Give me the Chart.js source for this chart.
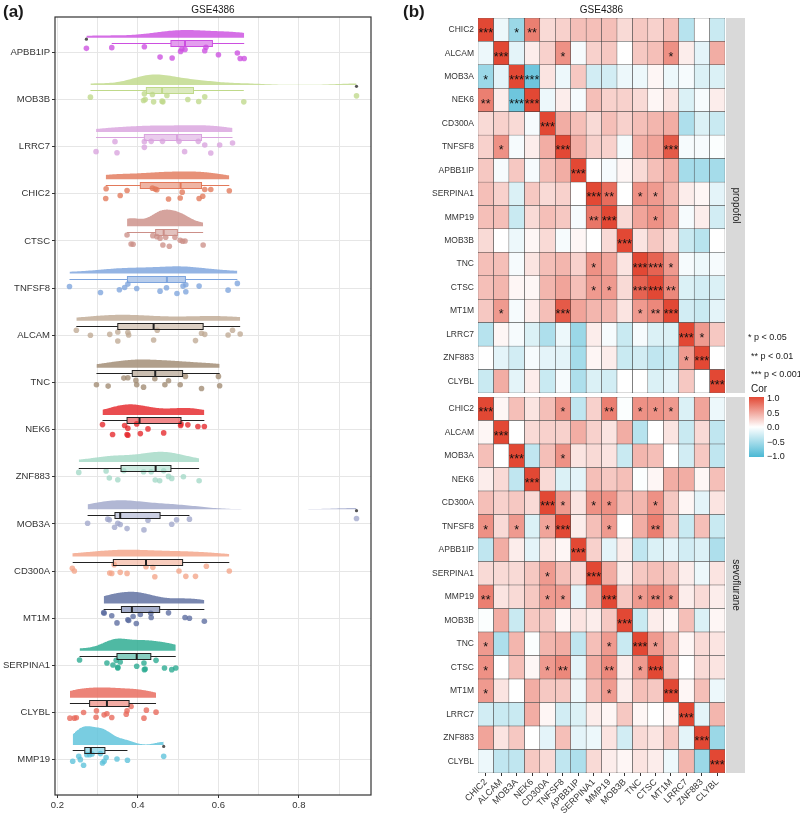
<!DOCTYPE html>
<html>
<head>
<meta charset="utf-8">
<script src="https://cdn.jsdelivr.net/npm/chart.js@4.4.1/dist/chart.umd.min.js"></script>
<style>
    body { margin: 0; background: #fff; font-family: "Liberation Sans", Arial, sans-serif; }
    #page { position: relative; width: 800px; height: 813px; overflow: hidden; }
    canvas { position: absolute; }
    .lab { position: absolute; color: #1a1a1a; white-space: nowrap; line-height: 1; }
</style>
</head>
<body>
<div id="page">
    <canvas id="rain" width="400" height="813" style="left:0;top:0"></canvas>
    <canvas id="hmTop" width="400" height="395" style="left:400px;top:0"></canvas>
    <canvas id="hmBot" width="400" height="418" style="left:400px;top:395px"></canvas>

    <div class="lab" style="left:3px;top:3px;font-weight:bold;font-size:17px">(a)</div>
    <div class="lab" style="left:403px;top:3px;font-weight:bold;font-size:17px">(b)</div>
    <div class="lab" style="left:55px;width:316px;text-align:center;top:5px;font-size:10px">GSE4386</div>
    <div class="lab" style="left:478px;width:247px;text-align:center;top:5px;font-size:10px">GSE4386</div>

    <div class="lab" style="left:748px;top:333px;font-size:9px">* p &lt; 0.05</div>
    <div class="lab" style="left:751px;top:352px;font-size:9px">** p &lt; 0.01</div>
    <div class="lab" style="left:751px;top:370px;font-size:9px">*** p &lt; 0.001</div>

    <div class="lab" style="left:751px;top:384px;font-size:10px">Cor</div>
    <div id="cbar" style="position:absolute;left:749px;top:397px;width:15px;height:60px"></div>
    <div class="lab" style="left:767px;top:394px;font-size:9px">1.0</div>
    <div class="lab" style="left:767px;top:409px;font-size:9px">0.5</div>
    <div class="lab" style="left:767px;top:423px;font-size:9px">0.0</div>
    <div class="lab" style="left:767px;top:438px;font-size:9px">&minus;0.5</div>
    <div class="lab" style="left:767px;top:452px;font-size:9px">&minus;1.0</div>
</div>

<script>
// ---- panel (a) data: genes top to bottom ----
const genes = ['APBB1IP', 'MOB3B', 'LRRC7', 'CHIC2', 'CTSC', 'TNFSF8', 'ALCAM', 'TNC',
    'NEK6', 'ZNF883', 'MOB3A', 'CD300A', 'MT1M', 'SERPINA1', 'CLYBL', 'MMP19'];

const geneColors = ['#CC4FE0', '#BFD98A', '#D9A3DE', '#E2795A', '#CC8F88', '#7DA4DD', '#BFA994', '#A08A72',
    '#E5262A', '#A3D9C6', '#A0A7CB', '#F3A488', '#5B6C9F', '#28A98F', '#E8685A', '#5CC2DA'];

// sample values
const pointValues = [
    [0.272, 0.335, 0.416, 0.455, 0.485, 0.506, 0.509, 0.517, 0.566, 0.569, 0.600, 0.647, 0.654, 0.664],
    [0.282, 0.416, 0.436, 0.418, 0.414, 0.439, 0.460, 0.462, 0.472, 0.524, 0.551, 0.566, 0.663, 0.943],
    [0.296, 0.343, 0.348, 0.416, 0.416, 0.433, 0.461, 0.502, 0.516, 0.550, 0.566, 0.581, 0.603, 0.635],
    [0.320, 0.321, 0.356, 0.373, 0.436, 0.443, 0.447, 0.476, 0.505, 0.510, 0.552, 0.561, 0.566, 0.581, 0.627],
    [0.373, 0.383, 0.388, 0.437, 0.447, 0.455, 0.462, 0.469, 0.478, 0.492, 0.505, 0.511, 0.517, 0.562],
    [0.230, 0.307, 0.354, 0.367, 0.375, 0.397, 0.455, 0.471, 0.497, 0.512, 0.519, 0.519, 0.552, 0.624, 0.647],
    [0.247, 0.282, 0.330, 0.350, 0.350, 0.375, 0.377, 0.439, 0.448, 0.543, 0.558, 0.566, 0.624, 0.635, 0.654],
    [0.297, 0.326, 0.365, 0.375, 0.395, 0.397, 0.414, 0.442, 0.467, 0.476, 0.505, 0.518, 0.558, 0.600, 0.603],
    [0.312, 0.337, 0.367, 0.373, 0.375, 0.375, 0.397, 0.406, 0.425, 0.464, 0.506, 0.507, 0.524, 0.549, 0.565],
    [0.253, 0.321, 0.329, 0.350, 0.365, 0.414, 0.433, 0.443, 0.454, 0.464, 0.476, 0.484, 0.513, 0.552],
    [0.275, 0.325, 0.329, 0.342, 0.350, 0.356, 0.373, 0.415, 0.425, 0.484, 0.496, 0.528, 0.943],
    [0.237, 0.242, 0.330, 0.335, 0.341, 0.356, 0.373, 0.420, 0.437, 0.442, 0.502, 0.519, 0.543, 0.570, 0.627],
    [0.315, 0.316, 0.335, 0.348, 0.375, 0.377, 0.388, 0.396, 0.406, 0.432, 0.433, 0.476, 0.517, 0.528, 0.565],
    [0.255, 0.323, 0.338, 0.346, 0.350, 0.350, 0.356, 0.397, 0.415, 0.416, 0.418, 0.445, 0.466, 0.484, 0.494],
    [0.231, 0.242, 0.247, 0.265, 0.297, 0.296, 0.316, 0.323, 0.335, 0.371, 0.373, 0.383, 0.415, 0.421, 0.445],
    [0.238, 0.253, 0.257, 0.265, 0.273, 0.280, 0.286, 0.307, 0.312, 0.316, 0.321, 0.348, 0.374, 0.464]
];

// vertical offset of each dot from its gene line (as read)
const pointJitter = [
    [-0.085, -0.10, -0.12, 0.10, 0.12, -0.02, -0.07, -0.06, -0.035, -0.11, 0.05, 0.014, 0.13, 0.13],
    [-0.05, -0.12, -0.106, 0, 0.02, 0.05, 0.035, 0.05, -0.085, 0, 0.043, -0.057, 0.05, -0.078],
    [0.106, -0.106, 0.128, -0.106, 0.014, -0.113, -0.113, -0.113, 0.106, -0.113, -0.035, 0.135, -0.035, -0.078],
    [0.10, -0.106, 0.035, -0.07, -0.12, -0.10, -0.085, 0.11, 0.09, -0.035, 0.10, 0.05, -0.09, -0.09, -0.064],
    [-0.128, 0.064, 0.07, -0.113, -0.092, -0.057, 0.085, -0.078, 0.113, -0.078, -0.014, 0.007, 0, 0.085],
    [-0.035, 0.092, 0.035, -0.014, -0.085, 0.007, 0.064, -0.007, 0.113, -0.043, -0.07, 0.078, -0.043, 0.043, -0.10],
    [-0.106, 0, -0.02, -0.07, 0.12, -0.057, -0.007, 0.10, -0.106, 0.113, -0.043, -0.02, -0.007, -0.106, -0.028],
    [0.05, 0.078, -0.092, -0.10, -0.043, 0.05, 0.10, -0.078, 0.05, -0.035, 0.05, -0.128, 0.128, -0.128, 0.07],
    [-0.106, 0.106, -0.085, 0.106, 0.12, -0.028, -0.12, 0.085, -0.014, 0.07, -0.085, -0.12, -0.10, -0.064, -0.064],
    [-0.092, -0.12, 0.028, 0.064, -0.128, -0.106, -0.106, 0.07, 0.085, -0.128, -0.007, 0.035, 0, 0.085],
    [-0.014, -0.10, -0.085, 0.07, -0.014, 0.014, 0.10, 0.128, -0.078, 0.007, -0.085, -0.10, -0.113],
    [-0.057, 0, 0.043, 0.05, -0.135, 0.028, 0.05, -0.092, -0.078, 0.12, 0, 0.113, 0.113, -0.10, 0],
    [-0.12, -0.106, -0.05, 0.10, 0.035, 0.05, -0.035, 0.113, -0.078, -0.106, -0.014, -0.113, -0.014, 0, 0.064],
    [-0.113, -0.05, -0.007, -0.106, 0.057, 0.043, -0.07, 0.02, -0.05, 0.092, 0.078, -0.106, 0.057, 0.092, 0.057],
    [0.12, 0.12, 0.113, 0, -0.035, 0.10, 0.05, 0.028, 0.106, 0.035, -0.035, -0.128, 0.12, -0.05, -0.007],
    [0.035, -0.07, 0, 0.12, -0.106, -0.106, -0.12, -0.128, 0.07, 0.035, -0.043, -0.014, 0.014, -0.07]
];

// boxplot stats as read
const boxQ1 = [0.482, 0.421, 0.416, 0.406, 0.444, 0.374, 0.350, 0.386, 0.373, 0.358, 0.343, 0.339, 0.359, 0.348, 0.280, 0.268];
const boxMed = [0.517, 0.460, 0.497, 0.506, 0.464, 0.472, 0.439, 0.443, 0.404, 0.444, 0.356, 0.420, 0.385, 0.397, 0.323, 0.283];
const boxQ3 = [0.585, 0.538, 0.558, 0.558, 0.498, 0.518, 0.562, 0.511, 0.507, 0.482, 0.455, 0.511, 0.454, 0.432, 0.378, 0.318];
const whiskLo = [0.335, 0.282, 0.296, 0.320, 0.373, 0.230, 0.247, 0.297, 0.312, 0.253, 0.275, 0.238, 0.315, 0.255, 0.231, 0.238];
const whiskHi = [0.664, 0.663, 0.635, 0.627, 0.562, 0.647, 0.654, 0.603, 0.565, 0.552, 0.528, 0.627, 0.565, 0.494, 0.445, 0.374];
const outlierGene = [0, 1, 10, 15];
const outlierVal = [0.272, 0.943, 0.943, 0.464];

const xTicks = [0.2, 0.3, 0.4, 0.5, 0.6, 0.7, 0.8, 0.9];

// ---- panel (b) data ----
const hmGenes = ['CHIC2', 'ALCAM', 'MOB3A', 'NEK6', 'CD300A', 'TNFSF8', 'APBB1IP', 'SERPINA1',
    'MMP19', 'MOB3B', 'TNC', 'CTSC', 'MT1M', 'LRRC7', 'ZNF883', 'CLYBL'];

const corPropofol = [
    [1.00, -0.10, -0.55, 0.70, 0.20, 0.25, 0.35, 0.35, 0.35, 0.20, 0.30, 0.25, 0.35, -0.40, 0.00, -0.30],
    [-0.10, 1.00, -0.15, 0.10, 0.25, 0.60, -0.05, 0.25, 0.30, 0.00, 0.30, 0.35, 0.60, 0.10, -0.15, 0.45],
    [-0.55, -0.15, 1.00, -0.80, 0.15, -0.10, 0.30, -0.25, -0.25, -0.10, -0.10, 0.05, -0.10, -0.05, -0.20, -0.20],
    [0.70, 0.10, -0.80, 1.00, -0.10, 0.10, -0.05, 0.35, 0.25, 0.25, 0.20, 0.05, 0.15, -0.20, -0.05, 0.10],
    [0.20, 0.25, 0.20, -0.05, 1.00, 0.45, 0.35, 0.20, 0.35, 0.25, 0.35, 0.40, 0.45, -0.45, -0.20, -0.30],
    [0.25, 0.60, -0.05, 0.10, 0.45, 1.00, 0.45, 0.25, 0.25, -0.05, 0.45, 0.50, 0.90, -0.05, -0.05, -0.02],
    [0.30, -0.05, 0.30, -0.05, 0.35, 0.45, 1.00, 0.00, -0.05, 0.05, 0.20, 0.35, 0.45, -0.50, -0.50, -0.50],
    [0.35, 0.25, -0.20, 0.30, 0.20, 0.25, 0.00, 1.00, 0.80, 0.00, 0.60, 0.55, 0.40, 0.10, 0.05, -0.15],
    [0.35, 0.35, -0.30, 0.20, 0.35, 0.30, -0.05, 0.75, 1.00, 0.20, 0.50, 0.60, 0.45, -0.05, 0.10, -0.25],
    [0.20, 0.00, -0.10, 0.05, 0.20, -0.05, 0.05, 0.00, 0.20, 1.00, 0.15, 0.30, 0.20, -0.30, -0.40, 0.00],
    [0.35, 0.35, -0.05, 0.15, 0.35, 0.40, 0.25, 0.60, 0.50, 0.15, 1.00, 0.85, 0.55, -0.05, -0.10, -0.05],
    [0.35, 0.40, 0.05, 0.05, 0.40, 0.50, 0.35, 0.55, 0.55, 0.20, 0.85, 1.00, 0.65, -0.20, -0.25, -0.20],
    [0.30, 0.55, -0.05, 0.10, 0.35, 0.90, 0.50, 0.40, 0.40, 0.15, 0.55, 0.65, 1.00, -0.25, -0.30, -0.15],
    [-0.40, 0.05, -0.05, -0.20, -0.45, -0.10, -0.55, 0.10, -0.05, -0.30, -0.05, -0.20, -0.20, 1.00, 0.55, 0.30],
    [0.00, -0.15, -0.25, -0.05, -0.15, -0.15, -0.50, 0.05, 0.10, -0.30, -0.25, -0.35, -0.30, 0.55, 1.00, 0.00],
    [-0.30, 0.45, -0.15, 0.10, -0.30, -0.05, -0.45, -0.20, -0.25, 0.00, 0.00, -0.20, -0.15, 0.30, 0.00, 1.00]
];

// number of stars per cell (0-3)
const sigPropofol = [
    '3012000000000000', '0300010000001000', '1033000000000000', '2033000000000000',
    '0000300000000000', '0100030000003000', '0000003000000000', '0000000320110000',
    '0000000230010000', '0000000003000000', '0000000100331000', '0000000110332000',
    '0100030000123000', '0000000000000310', '0000000000000130', '0000000000000003'
];

const corSevo = [
    [1.00, 0.05, 0.35, 0.15, 0.35, 0.60, -0.35, 0.25, 0.70, -0.02, 0.60, 0.60, 0.55, -0.20, 0.50, -0.10],
    [0.05, 1.00, 0.00, 0.20, 0.25, 0.25, 0.45, 0.25, 0.15, 0.45, -0.40, 0.00, 0.15, -0.30, 0.20, -0.35],
    [0.35, 0.00, 1.00, -0.35, 0.35, 0.60, 0.15, 0.20, 0.15, -0.30, 0.40, 0.35, 0.00, -0.25, 0.30, -0.35],
    [0.10, 0.20, -0.35, 1.00, 0.20, -0.20, -0.15, 0.35, 0.30, 0.35, -0.02, 0.05, 0.45, 0.45, 0.05, 0.35],
    [0.35, 0.25, 0.30, 0.20, 1.00, 0.55, 0.15, 0.60, 0.60, 0.35, 0.40, 0.60, 0.30, 0.05, -0.15, 0.15],
    [0.60, 0.20, 0.55, -0.20, 0.50, 1.00, 0.10, 0.35, 0.55, 0.00, 0.45, 0.70, 0.30, -0.30, 0.35, -0.30],
    [-0.35, 0.45, 0.10, -0.15, 0.15, 0.05, 1.00, 0.25, -0.15, 0.10, -0.35, -0.20, -0.15, -0.25, -0.20, -0.45],
    [0.20, 0.20, 0.20, 0.30, 0.55, 0.35, 0.20, 1.00, 0.45, 0.10, 0.30, 0.35, 0.30, 0.10, -0.10, 0.15],
    [0.70, 0.15, 0.20, 0.30, 0.55, 0.55, -0.15, 0.45, 1.00, 0.30, 0.55, 0.65, 0.55, 0.10, 0.20, 0.10],
    [-0.02, 0.45, -0.30, 0.30, 0.30, 0.05, 0.15, 0.10, 0.30, 1.00, -0.30, 0.10, 0.05, 0.35, -0.20, 0.05],
    [0.55, -0.45, 0.40, -0.02, 0.40, 0.45, -0.35, 0.35, 0.55, -0.30, 1.00, 0.55, 0.35, 0.05, 0.20, 0.15],
    [0.60, 0.00, 0.35, 0.05, 0.55, 0.65, -0.15, 0.45, 0.65, 0.10, 0.55, 1.00, 0.35, 0.00, 0.20, 0.15],
    [0.55, 0.15, 0.00, 0.45, 0.30, 0.30, -0.10, 0.35, 0.55, 0.10, 0.35, 0.30, 1.00, 0.05, 0.35, -0.10],
    [-0.25, -0.30, -0.30, 0.45, 0.05, -0.25, -0.20, 0.10, 0.05, 0.30, 0.05, 0.00, 0.05, 1.00, -0.15, 0.40],
    [0.50, 0.15, 0.30, 0.00, -0.15, 0.35, -0.15, -0.10, 0.15, -0.25, 0.20, 0.15, 0.30, -0.15, 1.00, -0.55],
    [-0.10, -0.35, -0.35, 0.30, 0.20, -0.35, -0.45, 0.20, 0.10, 0.05, 0.15, 0.10, -0.10, 0.40, -0.55, 1.00]
];

const sigSevo = [
    '3000010020111000', '0300000000000000', '0030010000000000', '0003000000000000',
    '0000310110010000', '1010130010020000', '0000003000000000', '0000100300000000',
    '2000110030121000', '0000000003000000', '1000000010310000', '1000120020130000',
    '1000000010003000', '0000000000000300', '0000000000000030', '0000000000000003'
];

Chart.defaults.font.family = '"Liberation Sans", Arial, sans-serif';
Chart.defaults.color = '#333';

function withAlpha(hex, a) {
    const n = parseInt(hex.slice(1), 16);
    return 'rgba(' + (n >> 16) + ',' + ((n >> 8) & 255) + ',' + (n & 255) + ',' + a + ')';
}

function corColor(v) {
    const t = Math.min(1, Math.abs(v));
    const c = v >= 0 ? [226, 72, 52] : [74, 184, 212];
    const r = Math.round(255 + (c[0] - 255) * t);
    const g = Math.round(255 + (c[1] - 255) * t);
    const b = Math.round(255 + (c[2] - 255) * t);
    return 'rgb(' + r + ',' + g + ',' + b + ')';
}

function quantile(sorted, p) {
    const h = (sorted.length - 1) * p;
    const lo = Math.floor(h);
    const hi = Math.min(lo + 1, sorted.length - 1);
    return sorted[lo] + (sorted[hi] - sorted[lo]) * (h - lo);
}

// gaussian kernel density, bw.nrd0, trimmed to data range
function density(vals) {
    const s = vals.slice().sort((a, b) => a - b);
    const n = s.length;
    const mean = s.reduce((a, b) => a + b, 0) / n;
    const sd = Math.sqrt(s.reduce((a, b) => a + (b - mean) * (b - mean), 0) / (n - 1));
    const iqr = quantile(s, 0.75) - quantile(s, 0.25);
    const bw = 0.9 * Math.min(sd, iqr / 1.34) * Math.pow(n, -0.2);
    const out = [];
    const steps = 120;
    for (let k = 0; k <= steps; k++) {
        const x = s[0] + (s[n - 1] - s[0]) * k / steps;
        let d = 0;
        s.forEach(v => { const z = (x - v) / bw; d += Math.exp(-0.5 * z * z); });
        out.push({ x: x, d: d / (n * bw * Math.sqrt(2 * Math.PI)) });
    }
    return out;
}

// ---------------- panel (a) ----------------
function createRaincloud() {
    const violinBase = 0.31;   // distance of violin baseline above gene line
    const violinMax = 0.40;    // tallest violin, in gene units
    const dens = pointValues.map(density);
    const maxD = Math.max(...dens.map(arr => Math.max(...arr.map(p => p.d))));
    const k = violinMax / maxD;

    const datasets = [];
    genes.forEach((g, i) => {
        const base = i - violinBase;
        datasets.push({
            type: 'line',
            data: dens[i].map(p => ({ x: p.x, y: base - p.d * k })),
            borderWidth: 0,
            pointRadius: 0,
            tension: 0,
            backgroundColor: withAlpha(geneColors[i], 0.82),
            fill: { value: base },
            order: 3
        });
        datasets.push({
            type: 'scatter',
            data: pointValues[i].map((v, j) => ({ x: v, y: i + pointJitter[i][j] })),
            pointRadius: 2.8,
            pointBorderWidth: 0,
            backgroundColor: withAlpha(geneColors[i], 0.78),
            order: 2
        });
    });

    const boxPlugin = {
        id: 'boxes',
        afterDatasetsDraw(chart) {
            const xs = chart.scales.x, ys = chart.scales.y, ctx = chart.ctx;
            ctx.save();
            genes.forEach((g, i) => {
                const yc = Math.round(ys.getPixelForValue(i - 0.195)) + 0.5;
                const edge = i < 6 ? geneColors[i] : '#222';
                const xl = xs.getPixelForValue(whiskLo[i]);
                const x1 = xs.getPixelForValue(boxQ1[i]);
                const xm = xs.getPixelForValue(boxMed[i]);
                const x3 = xs.getPixelForValue(boxQ3[i]);
                const xh = xs.getPixelForValue(whiskHi[i]);
                ctx.strokeStyle = edge;
                ctx.lineWidth = 1;
                ctx.beginPath();
                ctx.moveTo(xl, yc); ctx.lineTo(x1, yc);
                ctx.moveTo(x3, yc); ctx.lineTo(xh, yc);
                ctx.stroke();
                ctx.fillStyle = withAlpha(geneColors[i], 0.55);
                ctx.fillRect(x1, yc - 3, x3 - x1, 6);
                ctx.strokeRect(x1, yc - 3, x3 - x1, 6);
                ctx.lineWidth = 2;
                ctx.beginPath();
                ctx.moveTo(xm, yc - 3); ctx.lineTo(xm, yc + 3);
                ctx.stroke();
            });
            // outliers
            ctx.fillStyle = '#555';
            outlierGene.forEach((gi, j) => {
                ctx.beginPath();
                ctx.arc(xs.getPixelForValue(outlierVal[j]), ys.getPixelForValue(gi - 0.195) - 4, 1.6, 0, Math.PI * 2);
                ctx.fill();
            });
            ctx.restore();
        }
    };

    const framePlugin = {
        id: 'frame',
        afterDraw(chart) {
            const a = chart.chartArea, ctx = chart.ctx;
            ctx.save();
            ctx.strokeStyle = '#333';
            ctx.lineWidth = 1.2;
            ctx.strokeRect(a.left, a.top, a.right - a.left, a.bottom - a.top);
            ctx.restore();
        }
    };

    new Chart(document.getElementById('rain'), {
        type: 'scatter',
        data: { datasets: datasets },
        options: {
            responsive: false,
            animation: false,
            layout: { padding: { top: 17, right: 29, bottom: 0, left: 0 } },
            plugins: { legend: { display: false }, tooltip: { enabled: false } },
            scales: {
                x: {
                    type: 'linear',
                    min: 0.194,
                    max: 0.979,
                    afterBuildTicks: s => { s.ticks = xTicks.map(v => ({ value: v })); },
                    afterFit: s => { s.height = 18; },
                    grid: {
                        color: '#e6e6e6',
                        tickLength: 3,
                        tickColor: c => (c.index % 2 === 0 ? '#333' : 'rgba(0,0,0,0)')
                    },
                    border: { display: false },
                    ticks: {
                        padding: 2,
                        font: { size: 9.5 },
                        color: '#333',
                        callback: (v, i) => (i % 2 === 0 ? xTicks[i].toFixed(1) : '')
                    }
                },
                y: {
                    type: 'linear',
                    reverse: true,
                    min: -0.75,
                    max: 15.75,
                    afterBuildTicks: s => { s.ticks = genes.map((g, i) => ({ value: i })); },
                    afterFit: s => { s.width = 55; },
                    grid: { color: '#e6e6e6', tickLength: 3, tickColor: '#333' },
                    border: { display: false },
                    ticks: {
                        padding: 2,
                        font: { size: 9.5 },
                        color: '#333',
                        callback: (v, i) => genes[i]
                    }
                }
            }
        },
        plugins: [boxPlugin, framePlugin]
    });
}

// ---------------- panel (b) ----------------
function starPlugin(sig) {
    return {
        id: 'stars',
        afterDatasetsDraw(chart) {
            const ctx = chart.ctx;
            ctx.save();
            ctx.fillStyle = '#111';
            ctx.font = '12.5px "Liberation Sans"';
            ctx.textAlign = 'center';
            ctx.textBaseline = 'alphabetic';
            sig.forEach((row, r) => {
                for (let c = 0; c < row.length; c++) {
                    const n = +row[c];
                    if (!n) continue;
                    const el = chart.getDatasetMeta(c).data[r];
                    ctx.fillText('*'.repeat(n), (el.x + el.base) / 2, el.y + 7.5);
                }
            });
            ctx.restore();
        }
    };
}

function stripPlugin(text) {
    return {
        id: 'strip',
        afterDraw(chart) {
            const a = chart.chartArea, ctx = chart.ctx;
            ctx.save();
            ctx.fillStyle = '#d9d9d9';
            ctx.fillRect(a.right + 1, a.top, 19, a.bottom - a.top);
            ctx.translate(a.right + 10.5, (a.top + a.bottom) / 2);
            ctx.rotate(Math.PI / 2);
            ctx.fillStyle = '#1a1a1a';
            ctx.font = '10px "Liberation Sans"';
            ctx.textAlign = 'center';
            ctx.textBaseline = 'middle';
            ctx.fillText(text, 0, 0);
            ctx.restore();
        }
    };
}

function createHeatmap(id, cor, sig, stripLabel, showX) {
    const datasets = hmGenes.map((g, j) => ({
        label: g,
        data: hmGenes.map(() => 1),
        backgroundColor: cor.map(row => corColor(row[j])),
        borderColor: '#3c3c3c',
        borderWidth: 0.5,
        borderSkipped: false,
        barPercentage: 1,
        categoryPercentage: 1
    }));

    new Chart(document.getElementById(id), {
        type: 'bar',
        data: { labels: hmGenes, datasets: datasets },
        options: {
            indexAxis: 'y',
            responsive: false,
            animation: false,
            layout: {
                padding: showX ? { top: 2, right: 75, bottom: 0, left: 0 }
                               : { top: 18, right: 75, bottom: 2, left: 0 }
            },
            plugins: { legend: { display: false }, tooltip: { enabled: false } },
            scales: {
                y: {
                    stacked: true,
                    grid: { display: false, drawTicks: false },
                    border: { display: false },
                    afterFit: s => { s.width = 78; s.paddingTop = 0; s.paddingBottom = 0; },
                    ticks: { padding: 4, color: '#333', font: { size: 8.5 } }
                },
                x: {
                    stacked: true,
                    min: 0,
                    max: 16,
                    display: showX,
                    afterBuildTicks: s => { s.ticks = hmGenes.map((g, i) => ({ value: i + 0.5 })); },
                    afterFit: s => {
                        s.height = showX ? 40 : 0;
                        s.paddingLeft = 0;
                        s.paddingRight = 0;
                    },
                    grid: { drawOnChartArea: false, tickLength: 3, tickColor: '#333' },
                    border: { display: false },
                    ticks: {
                        autoSkip: false,
                        minRotation: 45,
                        maxRotation: 45,
                        padding: 1,
                        color: '#333',
                        font: { size: 9 },
                        callback: (v, i) => hmGenes[i]
                    }
                }
            }
        },
        plugins: [starPlugin(sig), stripPlugin(stripLabel)]
    });
}

document.addEventListener('DOMContentLoaded', function() {
    createRaincloud();
    createHeatmap('hmTop', corPropofol, sigPropofol, 'propofol', false);
    createHeatmap('hmBot', corSevo, sigSevo, 'sevoflurane', true);

    // colour bar for the correlation scale
    document.getElementById('cbar').style.background =
        'linear-gradient(to bottom,' + [1, 0.5, 0, -0.5, -1].map(corColor).join(',') + ')';
});
</script>
</body>
</html>
